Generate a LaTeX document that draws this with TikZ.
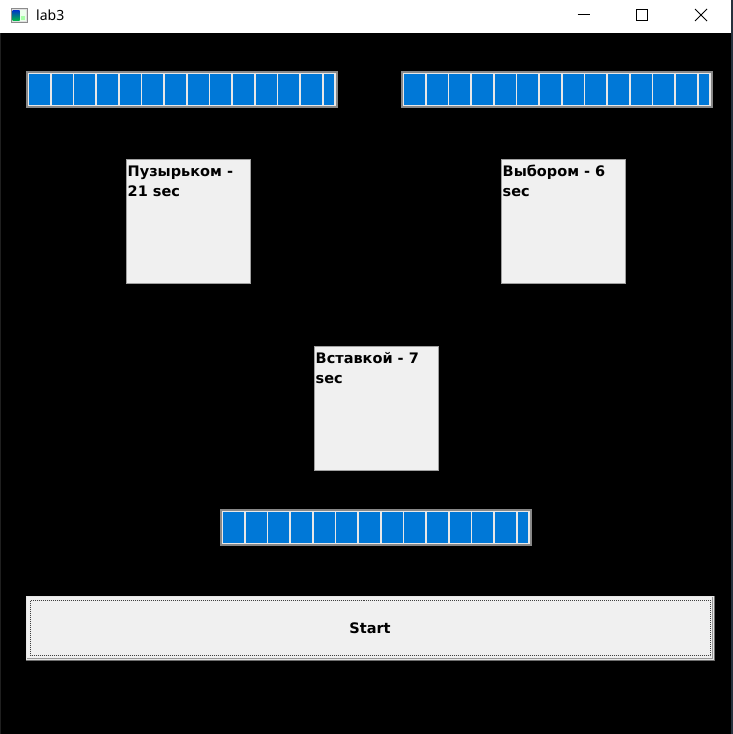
\documentclass[tikz,border=0pt]{standalone}
\usepackage{fontspec}
\newfontfamily\labelfont{DejaVu Sans}
\newfontfamily\captionfont{Noto Sans}
\usetikzlibrary{positioning,calc}

\definecolor{winblue}{HTML}{0078D7}
\definecolor{barframe}{HTML}{888888}
\definecolor{barback}{HTML}{E8E8E8}
\definecolor{panel}{HTML}{F0F0F0}
\definecolor{panelline}{HTML}{A0A0A0}
\definecolor{btndark}{HTML}{6E6E6E}
\definecolor{btnlight}{HTML}{E6E6E6}
\definecolor{winedge}{HTML}{27313D}

\begin{document}
\begin{tikzpicture}[x=1pt,y=-1pt,
        panelbox/.style={draw=panelline,fill=panel,line width=1pt,inner sep=0pt,
            minimum width=124pt,minimum height=124pt,anchor=north west},
        lbl/.style={anchor=north west,inner sep=0pt,align=left,
            font=\labelfont\bfseries\fontsize{14.5}{20.5}\selectfont},
        button/.style={draw=btnlight,fill=panel,line width=1pt,inner sep=0pt,
            minimum width=687pt,minimum height=63pt,anchor=north west,
            font=\labelfont\bfseries\fontsize{14.5}{16}\selectfont}]
            \useasboundingbox (0,0) rectangle (733,734);
            \fill[black] (0,0) rectangle (733,734);
            % title bar
            \fill[white] (0,0) rectangle (731,33);
            \fill[black!88!white] (0,33) rectangle (1,734);
            \fill[winedge] (731,0) rectangle (733,734);
            \coordinate (icon) at (11,8);
            \filldraw[fill=black!12, draw=black!45] (icon) rectangle ++(16,14);
            \shade[top color=blue!60!teal, bottom color=green!45!teal] ($(icon)+(1.5,2)$) rectangle ++(7,10.5);
            \fill[green!8!white] ($(icon)+(8.5,2)$) rectangle ++(6,10.5);
            \fill[green!35!white] ($(icon)+(9.5,8)$) rectangle ++(4,3.5);
            \node[anchor=base west, inner sep=0pt, font=\captionfont\fontsize{14}{16}\selectfont] (title) at (36,20) {lab3};
            \draw[line width=0.9pt] (577.5,14.5) -- (590,14.5);
            \draw[line width=0.9pt] (636.5,9.5) rectangle (647.5,20.5);
            \draw[line width=0.9pt] (695,9) -- (707,21) (695,21) -- (707,9);
            % progress bars
            \coordinate (bar1) at (26,71);
            \coordinate (bar2) at (401,71);
            \coordinate (bar3) at (220,509);
            \foreach \b in {bar1,bar2,bar3} {
                \fill[barframe] (\b) rectangle ++(312,37);
                \fill[barback] ($(\b)+(2,2)$) rectangle ++(308,33);
                \foreach \i in {0,...,12}
                    \fill[winblue] ($(\b)+(3+\i*22.67,3)$) rectangle ++(21,31);
                \fill[winblue] ($(\b)+(297.7,3)$) rectangle ($(\b)+(308,34)$);
            }
            % result labels
            \node[panelbox] (bubble) at (126,159) {};
            \node[panelbox] (selection) at (501,159) {};
            \node[panelbox] (insertion) at (314,346) {};
            \node[lbl] (bubbletext) at ($(bubble.north west)+(1.5,5.5)$) {\rule{0pt}{11.5pt}Пузырьком -\\21 sec};
            \node[lbl] (selectiontext) at ($(selection.north west)+(1.5,5.5)$) {\rule{0pt}{11.5pt}Выбором - 6\\sec};
            \node[lbl] (insertiontext) at ($(insertion.north west)+(1.5,5.5)$) {\rule{0pt}{11.5pt}Вставкой - 7\\sec};
            % start button
            \node[button] (start) at (26,596) {Start};
            \draw[btndark, line width=1pt] (start.north east) -- (start.south east) -- (start.south west);
            \draw[black!40, line width=1pt] ($(start.north east)+(-1.5,1)$) -- ($(start.south east)+(-1.5,-1.5)$) -- ($(start.south west)+(1,-1.5)$);
            \draw[black!75, line width=0.8pt, dash pattern=on 1pt off 1pt] ($(start.north west)+(4.5,4.5)$) rectangle ($(start.south east)+(-3.5,-4.5)$);
        \end{tikzpicture}
\end{document}
